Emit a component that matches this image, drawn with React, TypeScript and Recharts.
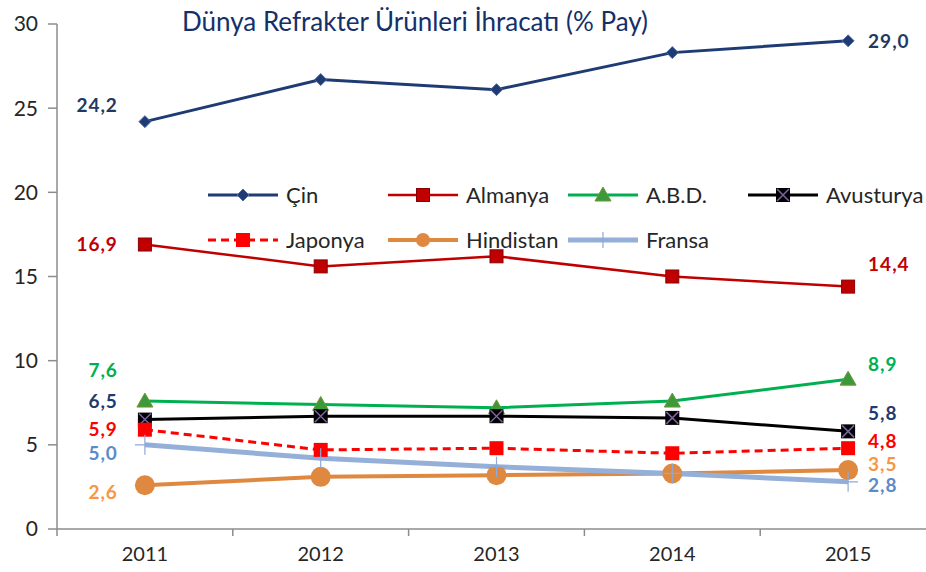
import { LineChart, Line, XAxis, YAxis, Legend, LabelList } from 'recharts';

const years = ['2011', '2012', '2013', '2014', '2015'];
const cin = [24.2, 26.7, 26.1, 28.3, 29.0];
const almanya = [16.9, 15.6, 16.2, 15.0, 14.4];
const abd = [7.6, 7.4, 7.2, 7.6, 8.9];
const avusturya = [6.5, 6.7, 6.7, 6.6, 5.8];
const japonya = [5.9, 4.7, 4.8, 4.5, 4.8];
const hindistan = [2.6, 3.1, 3.2, 3.3, 3.5];
const fransa = [5.0, 4.2, 3.7, 3.3, 2.8];
const yTicks = [0, 5, 10, 15, 20, 25, 30];

const FONT = 'Lato, "Open Sans", sans-serif';

type Kind = 'diamond' | 'square' | 'triangle' | 'xsquare' | 'redsquare' | 'circle' | 'plus';

interface SeriesCfg {
  key: string;
  name: string;
  values: number[];
  color: string;
  labelColor: string;
  width: number;
  dash?: string;
  marker: Kind;
  dyLeft: number;
  dyRight: number;
}

const series: SeriesCfg[] = [
  { key: 'cin', name: 'Çin', values: cin, color: '#1F3B73', labelColor: '#1F3864', width: 3, marker: 'diamond', dyLeft: -17, dyRight: 0 },
  { key: 'almanya', name: 'Almanya', values: almanya, color: '#C00000', labelColor: '#C00000', width: 2.5, marker: 'square', dyLeft: -1, dyRight: -23 },
  { key: 'abd', name: 'A.B.D.', values: abd, color: '#00B050', labelColor: '#00B050', width: 3, marker: 'triangle', dyLeft: -31, dyRight: -15 },
  { key: 'avusturya', name: 'Avusturya', values: avusturya, color: '#000000', labelColor: '#1F3B73', width: 3, marker: 'xsquare', dyLeft: -19, dyRight: -18 },
  { key: 'japonya', name: 'Japonya', values: japonya, color: '#FF0000', labelColor: '#FF0000', width: 3, dash: '8 5', marker: 'redsquare', dyLeft: -1, dyRight: -7 },
  { key: 'hindistan', name: 'Hindistan', values: hindistan, color: '#DE8840', labelColor: '#F79646', width: 4, marker: 'circle', dyLeft: 7, dyRight: -6 },
  { key: 'fransa', name: 'Fransa', values: fransa, color: '#95B0D8', labelColor: '#5B8BCB', width: 5, marker: 'plus', dyLeft: 8, dyRight: 3 },
];

const data = years.map((year, i) => {
  const row: Record<string, string | number> = { year };
  series.forEach((s) => {
    row[s.key] = s.values[i];
  });
  return row;
});

function Marker({ kind, cx, cy, color, small }: { kind: Kind; cx: number; cy: number; color: string; small?: boolean }) {
  switch (kind) {
    case 'diamond':
      return (
        <path
          d={`M${cx},${cy - 6}L${cx + 6},${cy}L${cx},${cy + 6}L${cx - 6},${cy}Z`}
          fill={color}
          stroke="#4F6FA8"
          strokeWidth={1}
        />
      );
    case 'square':
      return <rect x={cx - 6.5} y={cy - 6.5} width={13} height={13} fill="#C00000" stroke="#8B0000" strokeWidth={1} />;
    case 'triangle':
      return (
        <path
          d={`M${cx},${cy - 8}L${cx + 8},${cy + 6}L${cx - 8},${cy + 6}Z`}
          fill="#3A9A3A"
          stroke="#77933C"
          strokeWidth={1}
        />
      );
    case 'xsquare':
      return (
        <g>
          <rect x={cx - 7} y={cy - 7} width={14} height={14} fill="#000000" />
          <path
            d={`M${cx - 6},${cy - 6}L${cx + 6},${cy + 6}M${cx + 6},${cy - 6}L${cx - 6},${cy + 6}`}
            stroke="#7A63A0"
            strokeWidth={1.5}
          />
        </g>
      );
    case 'redsquare':
      return <rect x={cx - 7} y={cy - 7} width={14} height={14} fill="#FF0000" />;
    case 'circle':
      return <circle cx={cx} cy={cy} r={small ? 7 : 10} fill="#DE8840" />;
    case 'plus': {
      const h = small ? 8 : 10;
      return (
        <path
          d={`M${cx},${cy - h}L${cx},${cy + h}M${cx - h},${cy}L${cx + h},${cy}`}
          stroke="#8EA9DB"
          strokeWidth={1.2}
        />
      );
    }
  }
  return null;
}

function XTick(props: any) {
  const { x, y, payload } = props;
  const half = payload.offset ?? 0;
  return (
    <g>
      <line x1={x - half} y1={y - 8} x2={x - half} y2={y - 1} stroke="#8C8C8C" strokeWidth={1.5} />
      <text x={x} y={y + 24} textAnchor="middle" fontSize={20} fill="#262626" fontFamily={FONT}>
        {payload.value}
      </text>
    </g>
  );
}

function LegendBox() {
  return (
    <div style={{ display: 'grid', gridTemplateColumns: 'repeat(4, 180px)', fontFamily: FONT }}>
      {series.map((s) => (
        <div key={s.key} style={{ display: 'flex', alignItems: 'center', height: 45 }}>
          <svg width={70} height={24} style={{ marginRight: 8 }}>
            <line
              x1={0}
              y1={12}
              x2={70}
              y2={12}
              stroke={s.color}
              strokeWidth={s.width}
              strokeDasharray={s.dash}
            />
            <Marker kind={s.marker} cx={35} cy={12} color={s.color} small />
          </svg>
          <span style={{ fontSize: 22, color: '#262626', whiteSpace: 'nowrap' }}>{s.name}</span>
        </div>
      ))}
    </div>
  );
}

function makeLabel(s: SeriesCfg) {
  return (p: any) => {
    const { x, y, value, index } = p;
    const last = s.values.length - 1;
    if (index !== 0 && index !== last) return null;
    const left = index === 0;
    return (
      <text
        key={`${s.key}-lbl-${index}`}
        x={left ? x - 27 : x + 20}
        y={y + (left ? s.dyLeft : s.dyRight)}
        dy={7}
        textAnchor={left ? 'end' : 'start'}
        fontSize={19}
        fontWeight={700}
        fill={s.labelColor}
        fontFamily={FONT}
        letterSpacing={1}
      >
        {Number(value).toFixed(1).replace('.', ',')}
      </text>
    );
  };
}

export default function App() {
  return (
    <div style={{ position: 'absolute', left: 0, top: 0, width: 926, height: 572, overflow: 'hidden', background: '#fff' }}>
      <div
        style={{
          position: 'absolute',
          left: 0,
          width: 830,
          top: 5,
          textAlign: 'center',
          fontFamily: FONT,
          fontSize: 26,
          color: '#14306A',
          zIndex: 2,
        }}
      >
        Dünya Refrakter Ürünleri İhracatı (% Pay)
      </div>
      <LineChart width={936} height={572} data={data} margin={{ top: 24, right: 0, bottom: 0, left: 0 }}>
        <XAxis
          dataKey="year"
          scale="band"
          height={43}
          axisLine={{ stroke: '#8C8C8C', strokeWidth: 1.5 }}
          tickLine={false}
          tick={<XTick />}
          interval={0}
        />
        <YAxis
          domain={[0, 30]}
          ticks={yTicks}
          width={57}
          axisLine={{ stroke: '#8C8C8C', strokeWidth: 1.5 }}
          tickLine={{ stroke: '#8C8C8C', strokeWidth: 1.5 }}
          tickSize={9}
          tickMargin={10}
          tick={{ fontSize: 21, fill: '#262626', fontFamily: FONT }}
        />
        <Legend
          layout="horizontal"
          verticalAlign="middle"
          align="center"
          content={() => <LegendBox />}
          wrapperStyle={{ left: 208, top: 172, width: 720 }}
        />
        {series.map((s) => (
          <Line
            key={s.key}
            type="linear"
            dataKey={s.key}
            name={s.name}
            stroke={s.color}
            strokeWidth={s.width}
            strokeDasharray={s.dash}
            isAnimationActive={false}
            dot={(p: any) => <Marker key={`${s.key}-dot-${p.index}`} kind={s.marker} cx={p.cx} cy={p.cy} color={s.color} />}
            activeDot={false}
          >
            <LabelList dataKey={s.key} content={makeLabel(s)} />
          </Line>
        ))}
      </LineChart>
    </div>
  );
}
